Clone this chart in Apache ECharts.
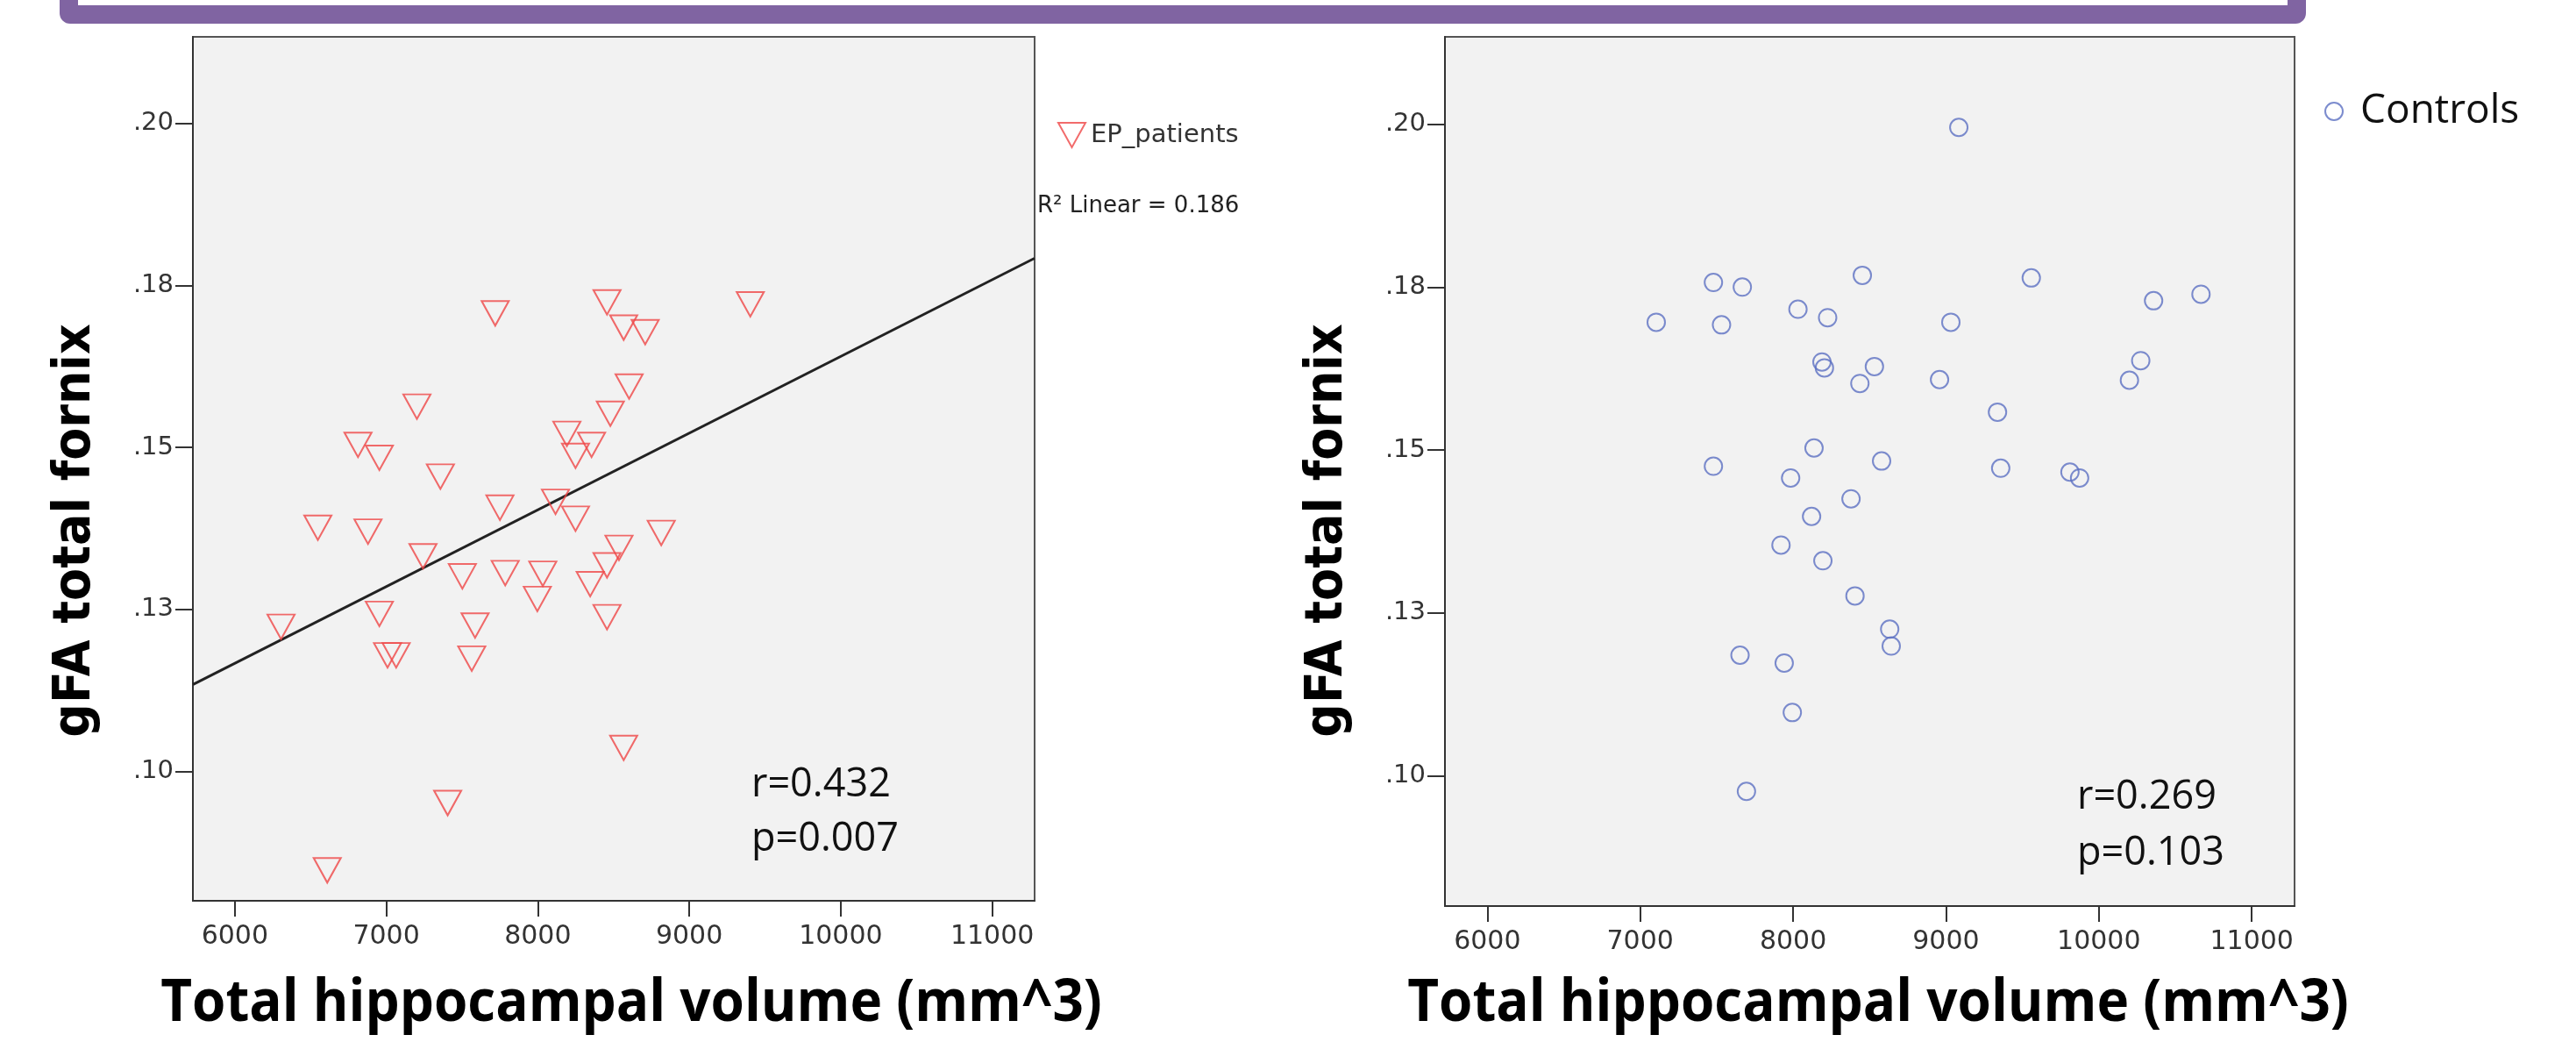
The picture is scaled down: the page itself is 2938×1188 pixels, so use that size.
<!DOCTYPE html>
<html><head><meta charset="utf-8">
<script src="https://cdn.jsdelivr.net/npm/echarts@6/dist/echarts.min.js"></script>
<style>html,body{margin:0;padding:0;background:#fff}#c{width:2938px;height:1188px}</style>
</head><body><div id="c"></div>
<script>
// ---- data ----
const xTickValues = [6000, 7000, 8000, 9000, 10000, 11000];
const yTickValues = [0.10, 0.125, 0.15, 0.175, 0.20];
const yTickLabels = ['.10', '.13', '.15', '.18', '.20'];
const xRange = [5723, 11280];
const yRange = [0.08, 0.2134];

const patientsX = [7719, 8457, 9403, 8567, 8709, 8603, 7202, 8479, 8192, 8355, 8249, 6813, 6954, 7357, 7750, 8117, 8249, 6548, 6879, 8815, 8536, 7242, 8457, 7502, 7785, 8033, 8346, 7997, 6954, 8457, 6305, 7586, 7008, 7065, 7564, 8567, 7405, 6610];
const patientsY = [0.1707, 0.1724, 0.1721, 0.1685, 0.1678, 0.1594, 0.1563, 0.1552, 0.1521, 0.1504, 0.1487, 0.1504, 0.1484, 0.1455, 0.1407, 0.1416, 0.1390, 0.1376, 0.1370, 0.1368, 0.1345, 0.1332, 0.1318, 0.1301, 0.1306, 0.1305, 0.1289, 0.1266, 0.1243, 0.1238, 0.1223, 0.1225, 0.1179, 0.1179, 0.1174, 0.1036, 0.0951, 0.0847];

const controlsX = [9084, 8453, 9558, 7479, 7668, 10668, 10358, 8032, 8226, 7105, 7532, 9032, 10274, 8189, 8205, 8532, 8437, 8958, 10200, 9337, 8137, 7479, 8579, 9358, 9811, 9874, 7984, 8379, 8121, 7921, 8195, 8405, 8632, 8642, 7653, 7942, 7995, 7695];
const controlsY = [0.1995, 0.1768, 0.1764, 0.1757, 0.1750, 0.1739, 0.1729, 0.1716, 0.1703, 0.1696, 0.1692, 0.1696, 0.1637, 0.1635, 0.1626, 0.1628, 0.1602, 0.1608, 0.1607, 0.1558, 0.1503, 0.1475, 0.1483, 0.1472, 0.1466, 0.1457, 0.1457, 0.1425, 0.1398, 0.1354, 0.1330, 0.1276, 0.1225, 0.1199, 0.1185, 0.1173, 0.1097, 0.0976];

const fitX = [5724, 11279];
const fitY = [0.1134, 0.1792];

const seriesNames = ['EP_patients', 'Controls'];
const fitLabel = 'R² Linear = 0.186';
const statsLeft = ['r=0.432', 'p=0.007'];
const statsRight = ['r=0.269', 'p=0.103'];
const xTitle = 'Total hippocampal volume (mm^3)';
const yTitle = 'gFA total fornix';

// ---- chart ----
const chart = echarts.init(document.getElementById('c'), null, {renderer: 'canvas', width: 2938, height: 1188});
const zip = (a, b) => a.map((v, i) => [v, b[i]]);
const downTri = 'path://M0,0L31,0L15.5,28Z';
const RED = '#ef4646', BLUE = '#5b6fc2', PURPLE = '#8064a2';

function xAxisCfg(gi) {
  return {
    type: 'value', gridIndex: gi, min: xRange[0], max: xRange[1],
    axisLine: {show: true, onZero: false, lineStyle: {color: '#333', width: 2}},
    axisTick: {show: true, customValues: xTickValues, length: 18, lineStyle: {color: '#333', width: 2}},
    axisLabel: {customValues: xTickValues, margin: 26, fontFamily: 'DejaVu Sans', fontSize: 30, color: '#333',
      formatter: v => String(Math.round(v))},
    splitLine: {show: false}
  };
}
function yAxisCfg(gi) {
  return {
    type: 'value', gridIndex: gi, min: yRange[0], max: yRange[1],
    axisLine: {show: true, onZero: false, lineStyle: {color: '#333', width: 2}},
    axisTick: {show: true, customValues: yTickValues, length: 20, lineStyle: {color: '#333', width: 2}},
    axisLabel: {customValues: yTickValues, margin: 22, fontFamily: 'DejaVu Sans', fontSize: 29, color: '#333',
      formatter: v => { const i = yTickValues.findIndex(t => Math.abs(t - v) < 1e-9); return i >= 0 ? yTickLabels[i] : ''; }},
    splitLine: {show: false}
  };
}
function txt(text, x, y, opts) {
  const el = {type: 'text', x: x, y: y, silent: true,
    style: Object.assign({text: text, fill: '#111', align: 'left', verticalAlign: 'middle'}, opts.style || {})};
  if (opts.rotation !== undefined) el.rotation = opts.rotation;
  if (opts.scaleY !== undefined) el.scaleY = opts.scaleY;
  return el;
}

const option = {
  backgroundColor: '#ffffff',
  animation: false,
  grid: [
    {left: 220, top: 42, width: 960, height: 985, show: true, backgroundColor: '#f2f2f2', borderColor: '#555', borderWidth: 2},
    {left: 1648, top: 42, width: 969, height: 991, show: true, backgroundColor: '#f2f2f2', borderColor: '#555', borderWidth: 2}
  ],
  xAxis: [xAxisCfg(0), xAxisCfg(1)],
  yAxis: [yAxisCfg(0), yAxisCfg(1)],
  legend: [
    {data: [{name: seriesNames[0], icon: downTri}], left: 1206, top: 139, padding: 0, itemWidth: 33, itemHeight: 28,
      textStyle: {fontFamily: 'DejaVu Sans', fontSize: 29, color: '#333'}, selectedMode: false},
    {data: [{name: seriesNames[1], icon: 'circle'}], left: 2651, top: 104, padding: 0, itemWidth: 50, itemHeight: 20,
      textStyle: {fontFamily: 'Open Sans', fontSize: 46, color: '#111'}, selectedMode: false}
  ],
  series: [
    {name: seriesNames[0], type: 'scatter', xAxisIndex: 0, yAxisIndex: 0, data: zip(patientsX, patientsY),
      symbol: downTri, symbolSize: [31, 28],
      itemStyle: {color: 'rgba(0,0,0,0)', borderColor: RED, borderWidth: 2}},
    {name: 'fit', type: 'line', xAxisIndex: 0, yAxisIndex: 0, data: zip(fitX, fitY), showSymbol: false,
      lineStyle: {color: '#222', width: 3}, z: 1},
    {name: seriesNames[1], type: 'scatter', xAxisIndex: 1, yAxisIndex: 1, data: zip(controlsX, controlsY),
      symbol: 'circle', symbolSize: 20,
      itemStyle: {color: 'rgba(0,0,0,0)', borderColor: BLUE, borderWidth: 2}}
  ],
  graphic: [
    {type: 'rect', silent: true, shape: {x: 68, y: -80, width: 2562, height: 107, r: 12}, style: {fill: PURPLE}},
    {type: 'rect', silent: true, shape: {x: 89, y: -80, width: 2520, height: 86}, style: {fill: '#ffffff'}},
    txt(fitLabel, 1183, 235, {style: {font: '26px "DejaVu Sans"', fill: '#222'}}),
    txt(statsLeft[0], 857, 895, {style: {font: '45px "Open Sans"'}}),
    txt(statsLeft[1], 857, 957, {style: {font: '45px "Open Sans"'}}),
    txt(statsRight[0], 2369, 909, {style: {font: '45px "Open Sans"'}}),
    txt(statsRight[1], 2369, 973, {style: {font: '45px "Open Sans"'}}),
    txt(xTitle, 720, 1145, {scaleY: 1.06, style: {font: 'bold 62px "Open Sans"', fill: '#000', align: 'center'}}),
    txt(xTitle, 2142, 1145, {scaleY: 1.06, style: {font: 'bold 62px "Open Sans"', fill: '#000', align: 'center'}}),
    txt(yTitle, 87, 605, {rotation: Math.PI / 2, scaleY: 1.08, style: {font: 'bold 54px "DejaVu Sans"', fill: '#000', align: 'center'}}),
    txt(yTitle, 1515, 605, {rotation: Math.PI / 2, scaleY: 1.08, style: {font: 'bold 54px "DejaVu Sans"', fill: '#000', align: 'center'}})
  ]
};
chart.setOption(option);
</script>
</body></html>
